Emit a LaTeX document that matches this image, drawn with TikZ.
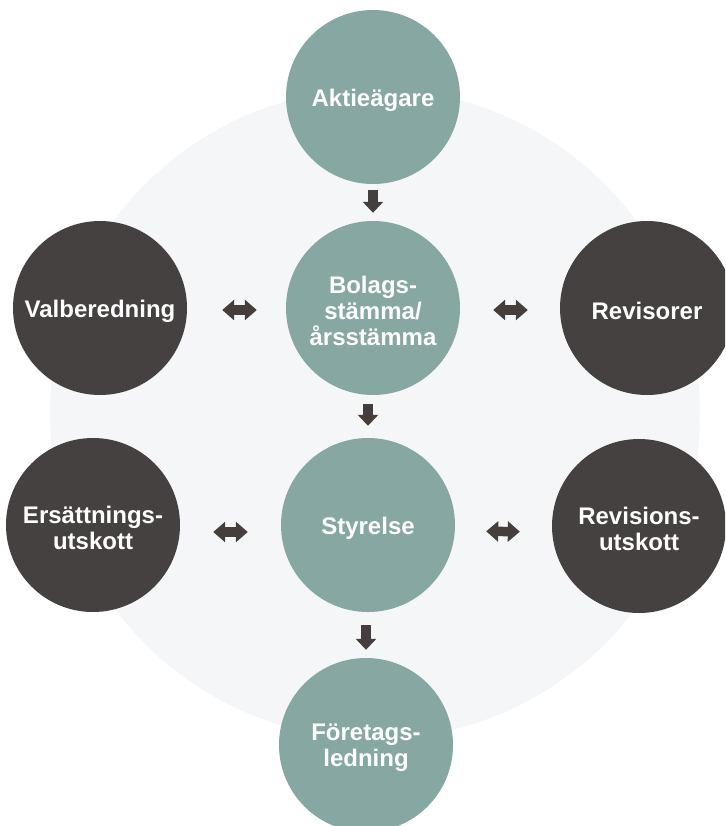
\documentclass[tikz,border=0pt]{standalone}
\usepackage{fontspec}
\setmainfont{Liberation Sans}
\usetikzlibrary{arrows.meta}
\definecolor{teal}{HTML}{86A7A2}
\definecolor{darkc}{HTML}{454140}
\definecolor{bgc}{HTML}{F5F6F8}
\definecolor{arrowc}{HTML}{443F3D}
\tikzset{
  lbl/.style={text=white, align=center, inner sep=0pt, yshift=-3pt,
    font=\fontsize{24}{26}\selectfont\bfseries},
  circ/.style={circle, minimum size=174pt, inner sep=0pt, label={[lbl]center:{#1}}},
  tealc/.style={circ={#1}, fill=teal},
  darkcirc/.style={circ={#1}, fill=darkc},
  downarr/.style={draw=arrowc, line width=9.5pt, -{Triangle[width=20pt,length=11pt]}},
  biarr/.style={draw=arrowc, line width=9.5pt, {Triangle[width=20pt,length=12pt]}-{Triangle[width=20pt,length=12pt]}}
}
\begin{document}
\begin{tikzpicture}[x=1pt,y=-1pt]
\useasboundingbox (0,0) rectangle (725,826);
\clip (0,0) rectangle (725,826);
\fill[white] (0,0) rectangle (725,826);
\fill[bgc] (375,414) circle (325);
\node[tealc={Aktieägare}] (A) at (373,97) {};
\node[tealc={Bolags-\\stämma/\\årsstämma}] (B) at (373,308) {};
\node[tealc={Styrelse}] (S) at (368,525) {};
\node[tealc={Företags-\\ledning}] (F) at (366,745) {};
\node[darkcirc={Valberedning}] (V) at (100,308) {};
\node[darkcirc={Revisorer}] (R) at (647,308) {};
\node[darkcirc={Ersättnings-\\utskott}] (E) at (93,525) {};
\node[darkcirc={Revisions-\\utskott}] (RU) at (639,526) {};
% vertical arrows
\draw[downarr, shorten <=6pt, shorten >=8pt] (A.south) -- (B.north);
\draw[downarr, shorten <=9pt, shorten >=12pt] (B.south -| S.center) -- (S.north);
\draw[downarr, shorten <=13pt, shorten >=8pt] (S.south -| F.center) -- (F.north);
% horizontal arrows
\draw[biarr, shorten <=35pt, shorten >=29pt] ([yshift=-2pt]V.east) -- ([yshift=-2pt]B.west);
\draw[biarr, shorten <=33pt, shorten >=32pt] ([yshift=-2pt]B.east) -- ([yshift=-2pt]R.west);
\draw[biarr, shorten <=33pt, shorten >=33pt] ([yshift=-7pt]E.east) -- ([yshift=-7pt]S.west);
\draw[biarr, shorten <=31pt, shorten >=32pt] ([yshift=-6pt]S.east) -- ([yshift=-6pt]RU.west);
\end{tikzpicture}
\end{document}
